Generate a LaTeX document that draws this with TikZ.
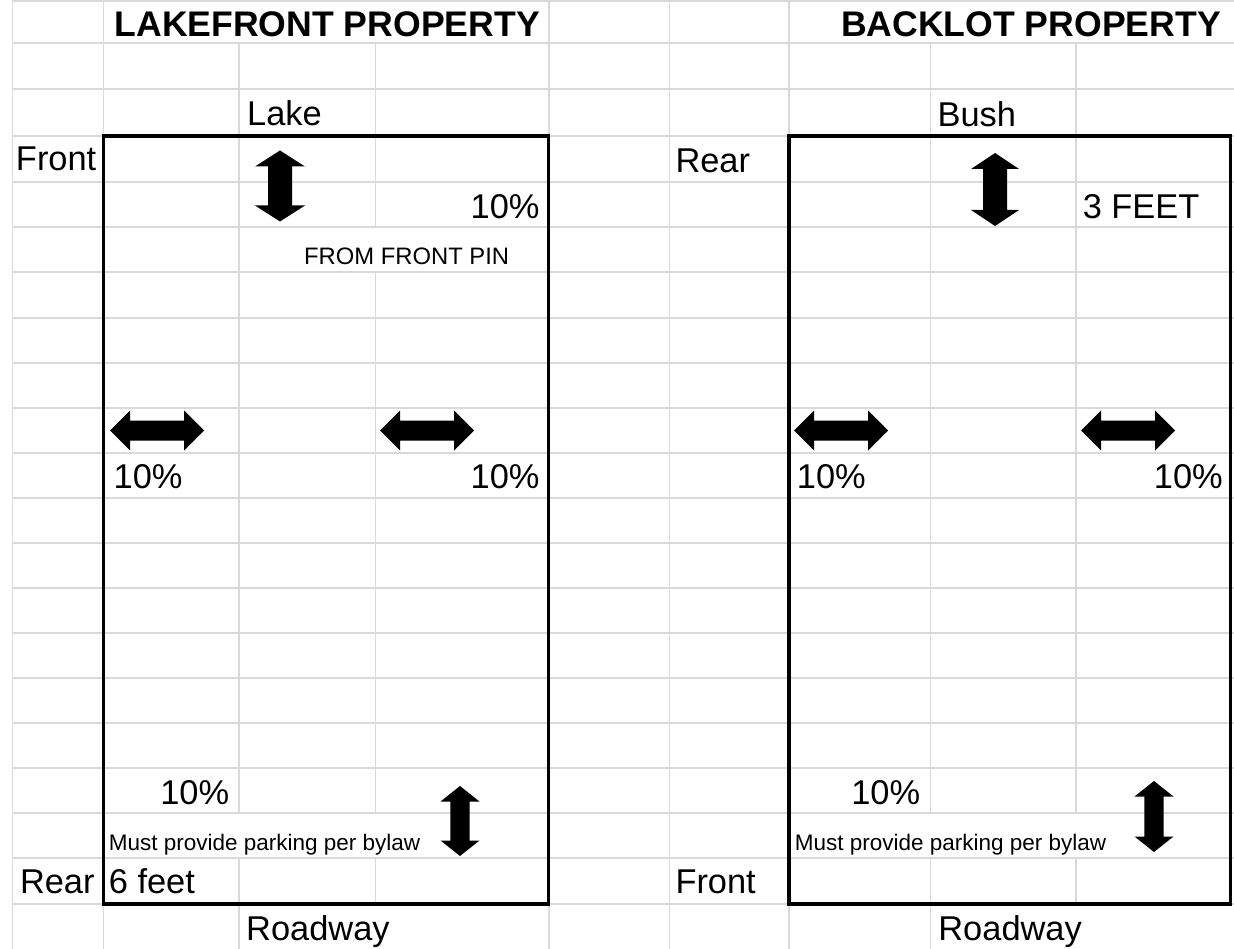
\documentclass[tikz,border=0pt]{standalone}
\usepackage{fontspec}
\setmainfont{Liberation Sans}
\definecolor{gridgray}{HTML}{D9D9D9}
\begin{document}
\begin{tikzpicture}[x=1pt,y=-1pt,
  grid/.style={draw=gridgray,line width=1.6pt},
  lot/.style={draw=black,line width=3.2pt},
  lbl/.style={inner sep=0pt,font=\fontsize{34.4}{40}\selectfont},
  ttl/.style={inner sep=0pt,font=\fontsize{35.6}{42}\selectfont\bfseries},
  smallA/.style={inner sep=0pt,font=\fontsize{23.8}{28}\selectfont},
  smallB/.style={inner sep=0pt,font=\fontsize{22.5}{27}\selectfont},
  pics/darrow/.style n args={4}{code={
    \fill[black] (0,-#1) -- (#2,-#1+#4) -- (#3,-#1+#4) -- (#3,#1-#4) -- (#2,#1-#4)
      -- (0,#1) -- (-#2,#1-#4) -- (-#3,#1-#4) -- (-#3,-#1+#4) -- (-#2,-#1+#4) -- cycle;
  }}
]
\useasboundingbox[fill=white] (0,0) rectangle (1234,949);

% spreadsheet grid: rows
\foreach \y in {0.8,43,89,136,182,227,272,318,363,408,453,498,543,588,633,678,723,768,813,858,904}
  \draw[grid] (12.6,\y) -- (1234,\y);
% spreadsheet grid: columns
\foreach \x in {12.6,103.6,548.8,669.4,789}
  \draw[grid] (\x,0) -- (\x,949);
\draw[grid] (239,43) -- (239,813);
\draw[grid] (239,858) -- (239,949);
\draw[grid] (375.6,43) -- (375.6,227);
\draw[grid] (375.6,272) -- (375.6,813);
\draw[grid] (375.6,858) -- (375.6,904);
\draw[grid] (930.3,43) -- (930.3,813);
\draw[grid] (930.3,858) -- (930.3,949);
\draw[grid] (1075.8,43) -- (1075.8,813);
\draw[grid] (1075.8,858) -- (1075.8,904);

% lots
\draw[lot] (103.6,136) rectangle (548.8,904);
\draw[lot] (789,136) rectangle (1230.8,904);

% titles
\node[ttl,anchor=base] (t1) at (327.2,36.5) {LAKEFRONT PROPERTY};
\node[ttl,anchor=base east] (t2) at (1221,36.5) {BACKLOT PROPERTY};

% lakefront labels
\node[lbl,anchor=base west] (lake) at (247,125.7) {Lake};
\node[lbl,anchor=base west] (lfront) at (15.8,170.5) {Front};
\node[lbl,anchor=base east] (ltop) at (539.7,218.3) {10\%};
\node[smallA,anchor=base west] (lpin) at (304,265) {FROM FRONT PIN};
\node[lbl,anchor=base west] (lml) at (113.5,488.3) {10\%};
\node[lbl,anchor=base east] (lmr) at (539.7,488.3) {10\%};
\node[lbl,anchor=base east] (lbot) at (229.3,804.3) {10\%};
\node[smallB,anchor=base west] (lpark) at (108.7,850) {Must provide parking per bylaw};
\node[lbl,anchor=base west] (lrear) at (19.8,893.3) {Rear};
\node[lbl,anchor=base west] (lsix) at (108.7,893.3) {6 feet};
\node[lbl,anchor=base west] (lroad) at (246,940) {Roadway};

% backlot labels
\node[lbl,anchor=base west] (bush) at (937.4,126.5) {Bush};
\node[lbl,anchor=base west] (rrear) at (675.3,173) {Rear};
\node[lbl,anchor=base west] (rtop) at (1082.6,218.3) {3 FEET};
\node[lbl,anchor=base west] (rml) at (796.7,488.3) {10\%};
\node[lbl,anchor=base east] (rmr) at (1223,488.3) {10\%};
\node[lbl,anchor=base east] (rbot) at (920.4,804.3) {10\%};
\node[smallB,anchor=base west] (rpark) at (794.7,850) {Must provide parking per bylaw};
\node[lbl,anchor=base west] (rfront) at (675.3,893.3) {Front};
\node[lbl,anchor=base west] (rroad) at (938.2,940) {Roadway};

% block arrows
\pic at (280,186) {darrow={35.5}{25}{12}{16}};
\pic at (995,189.5) {darrow={36.5}{24}{12}{16}};
\pic at (460,821) {darrow={35}{19.5}{9.7}{15.5}};
\pic at (1154,816.5) {darrow={35.5}{19.5}{9.7}{15.5}};
\pic[rotate=90] at (157.2,430.5) {darrow={47}{20}{10}{20}};
\pic[rotate=90] at (427,430.5) {darrow={47}{20}{10}{20}};
\pic[rotate=90] at (841.2,430.5) {darrow={47}{20}{10}{20}};
\pic[rotate=90] at (1128,430.5) {darrow={47}{20}{10}{20}};
\end{tikzpicture}
\end{document}
